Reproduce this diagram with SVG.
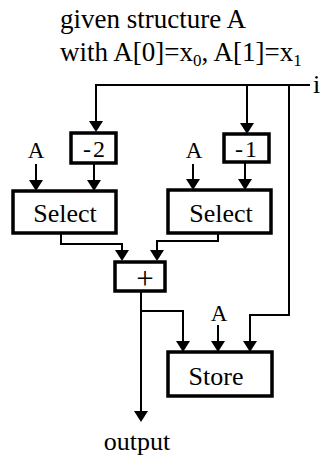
<svg xmlns="http://www.w3.org/2000/svg" width="320" height="460" viewBox="0 0 320 460">
<style>
text{font-family:"Liberation Serif","Times New Roman",serif;fill:#000}
.h{font-size:27px}
.t{font-size:26px}
.l{font-size:23px}
.n{font-size:24px;letter-spacing:2px}
.box{fill:#fff;stroke:#000;stroke-width:3.5}
.w{fill:none;stroke:#000;stroke-width:2}
.ah{fill:#000}
</style>
<rect width="320" height="460" fill="#fff"/>
<g id="title">
<text class="h" x="60" y="28">given structure A</text>
<text class="h" x="60" y="61">with A[0]=x<tspan font-size="17" dy="5">0</tspan><tspan dy="-5">, A[1]=x</tspan><tspan font-size="17" dy="5">1</tspan></text>
</g>
<g id="input-i"><text class="t" x="313" y="93">i</text></g>
<g id="connectors">
<path class="w" d="M310,85 H96 V122"/>
<path class="ah" d="M89,121 L103,121 L96,132 Z"/>
<path class="w" d="M247,85 V124"/>
<path class="ah" d="M240,123 L254,123 L247,134 Z"/>
<path class="w" d="M289,85 V315 H250 V342"/>
<path class="ah" d="M243,341 L257,341 L250,352 Z"/>
<path class="w" d="M36,164 V181"/>
<path class="ah" d="M29,180 L43,180 L36,191 Z"/>
<path class="w" d="M94,163 V181"/>
<path class="ah" d="M87,180 L101,180 L94,191 Z"/>
<path class="w" d="M193,164 V180"/>
<path class="ah" d="M186,179 L200,179 L193,190 Z"/>
<path class="w" d="M245,162 V180"/>
<path class="ah" d="M238,179 L252,179 L245,190 Z"/>
<path class="w" d="M61,233 V244 H122 V251"/>
<path class="ah" d="M115,250 L129,250 L122,261 Z"/>
<path class="w" d="M218,233 V241 H157 V251"/>
<path class="ah" d="M150,250 L164,250 L157,261 Z"/>
<path class="w" d="M141,291 V412"/>
<path class="ah" d="M134,411 L148,411 L141,422 Z"/>
<path class="w" d="M141,311 H183 V342"/>
<path class="ah" d="M176,341 L190,341 L183,352 Z"/>
<path class="w" d="M218,325 V342"/>
<path class="ah" d="M211,341 L225,341 L218,352 Z"/>
</g>
<g id="minus2">
<rect class="box" x="71" y="133" width="45" height="30"/>
<text class="n" x="95" y="157" text-anchor="middle">-2</text>
</g>
<g id="minus1">
<rect class="box" x="224" y="134" width="45" height="28"/>
<text class="n" x="247" y="157" text-anchor="middle">-1</text>
</g>
<g id="A-left"><text class="l" x="36" y="158" text-anchor="middle">A</text></g>
<g id="A-right"><text class="l" x="194" y="158" text-anchor="middle">A</text></g>
<g id="select-left">
<rect class="box" x="13" y="191" width="103" height="42"/>
<text class="t" x="65" y="222" text-anchor="middle">Select</text>
</g>
<g id="select-right">
<rect class="box" x="168" y="190" width="103" height="43"/>
<text class="t" x="221" y="222" text-anchor="middle">Select</text>
</g>
<g id="plus">
<rect class="box" x="115" y="262" width="50" height="29"/>
<text x="145" y="289" font-size="31" text-anchor="middle">+</text>
</g>
<g id="A-store"><text class="l" x="219" y="321" text-anchor="middle">A</text></g>
<g id="store">
<rect class="box" x="168" y="352" width="104" height="44"/>
<text class="t" x="216" y="385" text-anchor="middle">Store</text>
</g>
<g id="output"><text class="t" x="137" y="450" text-anchor="middle">output</text></g>
</svg>
